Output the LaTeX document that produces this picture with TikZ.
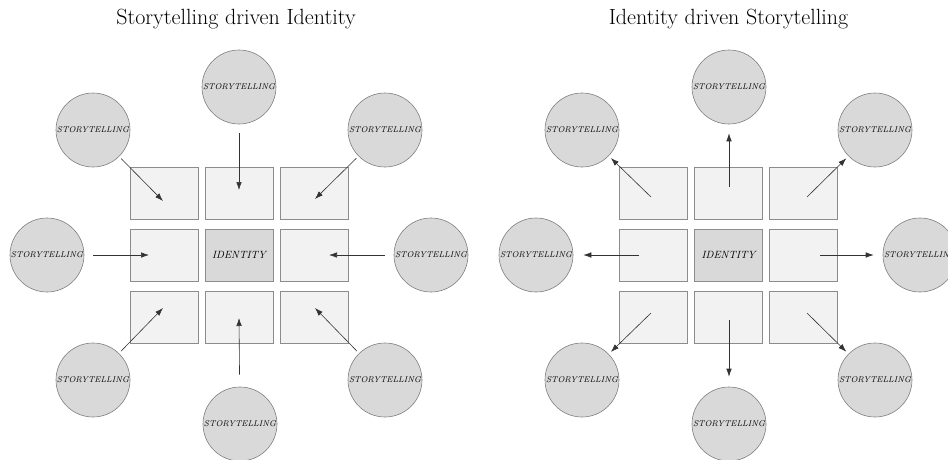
\documentclass[tikz,border=0pt]{standalone}
\usetikzlibrary{arrows.meta}
\definecolor{circfill}{HTML}{D9D9D9}
\definecolor{circline}{HTML}{7F7F7F}
\definecolor{boxfill}{HTML}{F2F2F2}
\definecolor{boxline}{HTML}{8C8C8C}
\definecolor{idfill}{HTML}{D9D9D9}
\definecolor{arrline}{HTML}{333333}
\tikzset{
  story/.style={circle, draw=circline, line width=0.6pt, fill=circfill, minimum size=74pt, inner sep=0pt,
    font=\fontsize{8.4}{9}\selectfont\itshape},
  cell/.style={rectangle, draw=boxline, line width=0.8pt, fill=boxfill, minimum width=68pt, minimum height=52pt, inner sep=0pt},
  idcell/.style={cell, fill=idfill, font=\fontsize{10.5}{12}\selectfont\itshape},
  title/.style={font=\fontsize{22}{26}\selectfont, inner sep=0pt},
  arr/.style={draw=arrline, line width=0.6pt, -{Latex[length=8pt,width=5.5pt]}}
}
\begin{document}
\begin{tikzpicture}[x=1pt,y=-1pt]
\useasboundingbox (0,0) rectangle (948,459);
% ---------- Left diagram ----------
\node[title] (t1) at (236,19) {Storytelling driven Identity};
\node[cell] (a11) at (164,193) {};
\node[cell] (a12) at (239,193) {};
\node[cell] (a13) at (314,193) {};
\node[cell] (a21) at (164,255) {};
\node[idcell] (a22) at (239,255) {IDENTITY};
\node[cell] (a23) at (314,255) {};
\node[cell] (a31) at (164,317) {};
\node[cell] (a32) at (239,317) {};
\node[cell] (a33) at (314,317) {};
\node[story] (sT)  at (239,87)  {STORYTELLING};
\node[story] (sTL) at (93,130)  {STORYTELLING};
\node[story] (sTR) at (385,130) {STORYTELLING};
\node[story] (sL)  at (47,255)  {STORYTELLING};
\node[story] (sR)  at (431,255) {STORYTELLING};
\node[story] (sBL) at (93,380)  {STORYTELLING};
\node[story] (sB)  at (240,424) {STORYTELLING};
\node[story] (sBR) at (385,380) {STORYTELLING};
\coordinate (eT)  at (239,190);
\coordinate (eTL) at (163,201);
\coordinate (eTR) at (315,199);
\coordinate (eL)  at (149,255);
\coordinate (eR)  at (329,255);
\coordinate (eBL) at (163,308);
\coordinate (eB)  at (239,318);
\coordinate (eBR) at (315,308);
\draw[arr, shorten <=9pt] (sT) -- (eT);
\draw[arr, shorten <=3pt] (sTL) -- (eTL);
\draw[arr, shorten <=3pt] (sTR) -- (eTR);
\draw[arr, shorten <=9pt] (sL) -- (eL);
\draw[arr, shorten <=9pt] (sR) -- (eR);
\draw[arr, shorten <=3pt] (sBL) -- (eBL);
\draw[arr, shorten <=12pt] (sB) -- (eB);
\draw[arr, shorten <=3pt] (sBR) -- (eBR);
% ---------- Right diagram ----------
\node[title] (t2) at (728.5,19) {Identity driven Storytelling};
\node[cell] (b11) at (653.5,193) {};
\node[cell] (b12) at (728.5,193) {};
\node[cell] (b13) at (803.5,193) {};
\node[cell] (b21) at (653.5,255) {};
\node[idcell] (b22) at (728.5,255) {IDENTITY};
\node[cell] (b23) at (803.5,255) {};
\node[cell] (b31) at (653.5,317) {};
\node[cell] (b32) at (728.5,317) {};
\node[cell] (b33) at (803.5,317) {};
\node[story] (rT)  at (729,87)  {STORYTELLING};
\node[story] (rTL) at (582,130) {STORYTELLING};
\node[story] (rTR) at (875,130) {STORYTELLING};
\node[story] (rL)  at (536,255) {STORYTELLING};
\node[story] (rR)  at (920,255) {STORYTELLING};
\node[story] (rBL) at (582,380) {STORYTELLING};
\node[story] (rB)  at (729,424) {STORYTELLING};
\node[story] (rBR) at (875,380) {STORYTELLING};
\coordinate (fT)  at (729,187);
\coordinate (fTL) at (651,197);
\coordinate (fTR) at (807,197);
\coordinate (fL)  at (639,255);
\coordinate (fR)  at (820,255);
\coordinate (fBL) at (651,313);
\coordinate (fB)  at (729,320);
\coordinate (fBR) at (807,313);
\draw[arr, shorten >=9pt] (fT) -- (rT);
\draw[arr, shorten >=3pt] (fTL) -- (rTL);
\draw[arr, shorten >=3pt] (fTR) -- (rTR);
\draw[arr, shorten >=10pt] (fL) -- (rL);
\draw[arr, shorten >=9pt] (fR) -- (rR);
\draw[arr, shorten >=3pt] (fBL) -- (rBL);
\draw[arr, shorten >=10pt] (fB) -- (rB);
\draw[arr, shorten >=3pt] (fBR) -- (rBR);
\end{tikzpicture}
\end{document}
